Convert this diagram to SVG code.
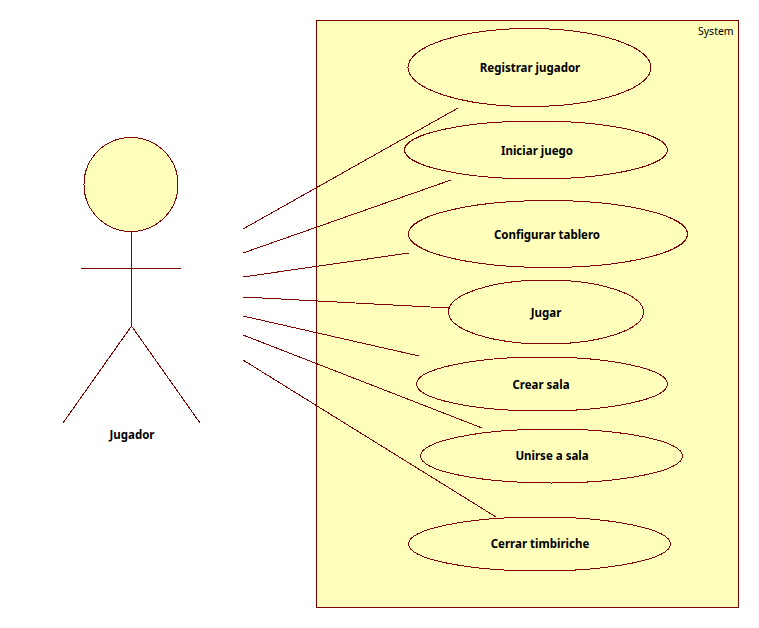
<svg xmlns="http://www.w3.org/2000/svg" width="759" height="628" viewBox="0 0 759 628">
<style>
.s{fill:#ffffbb;stroke:#800000;stroke-width:1;shape-rendering:crispEdges}
.l{fill:none;stroke:#800000;stroke-width:1;shape-rendering:crispEdges}
text{font-family:"Noto Sans","DejaVu Sans",sans-serif;font-size:11.500px;fill:#000}
.b{font-weight:700;text-anchor:middle}
.n{font-size:10.500px}
</style>
<rect width="759" height="628" fill="#fff"/>
<g id="system"><rect class="s" x="316.500" y="20.500" width="422" height="587"/><text class="n" x="698" y="35">System</text></g>
<g id="actor-jugador">
<circle class="s" cx="131" cy="184.500" r="47"/>
<path class="l" d="M131.500 232V326M81 268.500H181M131.500 326L63 423M131.500 326L200 423"/>
<text class="b" x="132" y="439">Jugador</text>
</g>
<g id="connectors">
<path class="l" d="M243 229L458 108M243 253L451 180M243 277L409 253M243 297L449 308M243 316L419 356M243 335L482 428M243 360L496 517"/>
</g>
<g id="uc-registrar"><ellipse class="s" cx="529.500" cy="67.500" rx="121.500" ry="39"/><text class="b" x="530" y="72">Registrar jugador</text></g>
<g id="uc-iniciar"><ellipse class="s" cx="536" cy="150" rx="131.500" ry="29"/><text class="b" x="537" y="155">Iniciar juego</text></g>
<g id="uc-configurar"><ellipse class="s" cx="548" cy="234" rx="139.500" ry="33.500"/><text class="b" x="547" y="239">Configurar tablero</text></g>
<g id="uc-jugar"><ellipse class="s" cx="546" cy="312" rx="97.500" ry="32"/><text class="b" x="546" y="317">Jugar</text></g>
<g id="uc-crear"><ellipse class="s" cx="542" cy="384" rx="125.500" ry="27"/><text class="b" x="541" y="389">Crear sala</text></g>
<g id="uc-unirse"><ellipse class="s" cx="551.500" cy="456" rx="131" ry="27"/><text class="b" x="552" y="460">Unirse a sala</text></g>
<g id="uc-cerrar"><ellipse class="s" cx="539.500" cy="544" rx="131" ry="27"/><text class="b" x="540" y="548">Cerrar timbiriche</text></g>
</svg>
